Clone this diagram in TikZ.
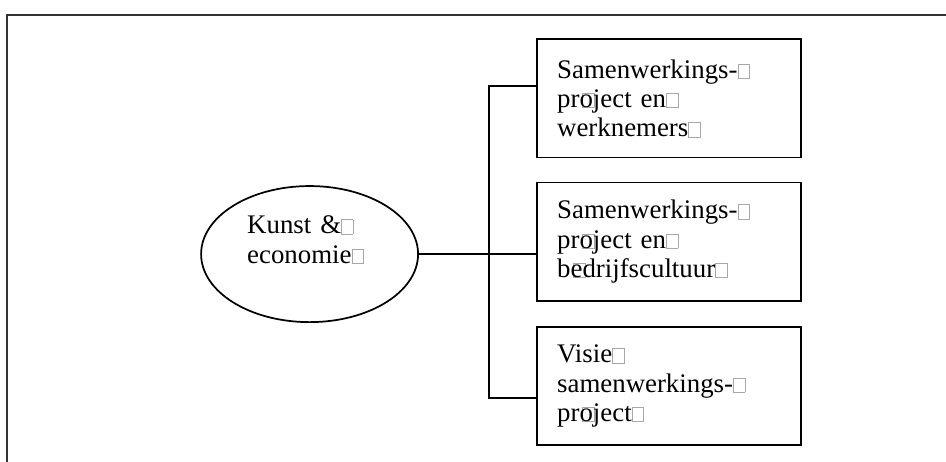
\documentclass[tikz,border=0pt]{standalone}
\usepackage{fontspec}
\setmainfont{Liberation Serif}
\usepackage{xcolor}
\usepackage{tikz}
\usetikzlibrary{positioning,shapes.geometric,calc}
\definecolor{framegray}{HTML}{333333}
\definecolor{glyphgray}{HTML}{A8A8A8}
% empty box for a glyph the font did not have
\newcommand{\missingglyph}{{\color{glyphgray}\setlength{\fboxsep}{0pt}\setlength{\fboxrule}{0.4pt}\fbox{\rule{0pt}{0.52em}\hspace{0.42em}}}}
\newcommand{\overglyph}{\rlap{\hspace{0.1em}\missingglyph}}
\tikzset{
  topic/.style={draw=black, line width=1.3pt, ellipse, align=left, text width=3.3cm, text depth=1.55cm, minimum width=5.74cm, minimum height=3.6cm, inner sep=0pt},
  itembox/.style={draw=black, line width=1.3pt, align=left, text width=5.92cm, inner xsep=0.53cm, minimum height=3.13cm},
  link/.style={draw=black, line width=1.3pt}
}
\begin{document}
\begin{tikzpicture}[font=\fontsize{20.2}{22.1}\selectfont]
  \useasboundingbox (0,0) rectangle (25.026,12.222);
  \draw[framegray, line width=1.6pt] (0.185,0) -- (0.185,11.83) -- (25.2,11.83);

  \node[topic] (kunst) at (8.19,5.50) {Kunst \&\missingglyph\\economie\missingglyph};

  \node[itembox] (werk) at (17.70,9.62) {Samenwerkings-\missingglyph\\pr\overglyph oject en\missingglyph\\werknemers\missingglyph};
  \node[itembox] (cultuur) at (17.70,5.83) {Samenwerkings-\missingglyph\\pr\overglyph oject en\missingglyph\\b\overglyph edrijfscultuur\missingglyph};
  \node[itembox] (visie) at (17.70,2.01) {Visie\missingglyph\\samenwerkings-\missingglyph\\pr\overglyph oject\missingglyph};

  \coordinate (forktop) at (12.94,9.95);
  \coordinate (forkbot) at (12.94,1.69);

  \draw[link] (kunst.east) -- (kunst.east -| cultuur.west);
  \draw[link] (forktop -| werk.west) -- (forktop) -- (forkbot) -- (forkbot -| visie.west);
\end{tikzpicture}
\end{document}
